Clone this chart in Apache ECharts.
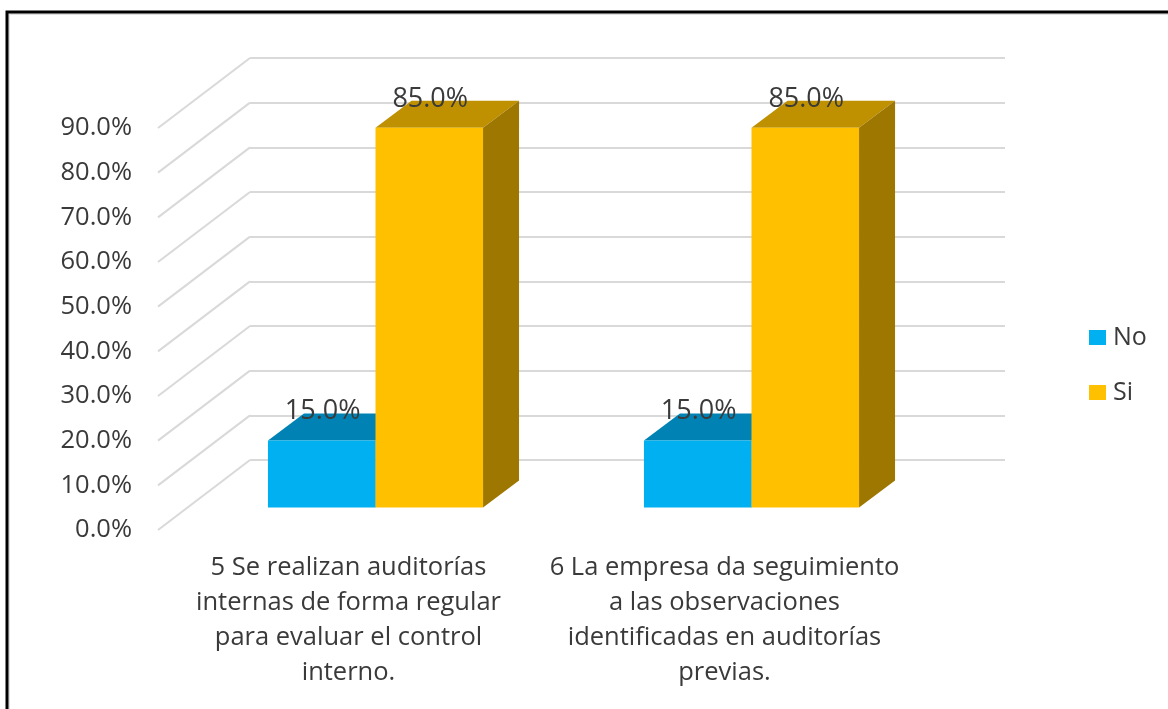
<!DOCTYPE html>
<html><head><meta charset="utf-8">
<style>html,body{margin:0;padding:0;background:#fff}#c{width:1168px;height:709px}</style>
<script src="https://cdn.jsdelivr.net/npm/echarts@6/dist/echarts.min.js"></script>
</head><body><div id="c"></div>
<script>
const categories = [
  "5 Se realizan auditorías\ninternas de forma regular\npara evaluar el control\ninterno.",
  "6 La empresa da seguimiento\na las observaciones\nidentificadas en auditorías\nprevias."
];
const noValues = [15, 15];
const siValues = [85, 85];
const wallTicks = [0, 10, 20, 30, 40, 50, 60, 70, 80, 90];

const FONT = '"Open Sans", sans-serif';
const TXT = '#3a3a3a';
const GRID = '#d9d9d9';
const wallDX = 92, wallDY = 70;      // front plane to back wall
const planeDX = 29.5, planeDY = 22.5; // front plane to bar front
const depthDX = 36, depthDY = 27;    // bar depth
const barFrac = 0.286;

function barRenderer(side, front, top, dark) {
  return function (params, api) {
    const c = api.coord([api.value(0), api.value(1)]);
    const b = api.coord([api.value(0), 0]);
    const w = api.size([1, 0])[0] * barFrac;
    const xL = c[0] + planeDX + (side < 0 ? -w : 0);
    const xR = xL + w;
    const yT = c[1] - planeDY, yB = b[1] - planeDY;
    const sh = (pts, fill) => ({ type: 'polygon', shape: { points: pts }, style: { fill: fill } });
    return {
      type: 'group',
      children: [
        sh([[xL, yT], [xR, yT], [xR + depthDX, yT - depthDY], [xL + depthDX, yT - depthDY]], top),
        sh([[xR, yT], [xR + depthDX, yT - depthDY], [xR + depthDX, yB - depthDY], [xR, yB]], dark),
        sh([[xL, yT], [xR, yT], [xR, yB], [xL, yB]], front),
        { type: 'text', z2: 10, style: {
            x: (xL + xR) / 2 + 1, y: yT - 29, text: api.value(1).toFixed(1) + '%',
            font: '27px ' + FONT, fill: TXT, align: 'center', verticalAlign: 'middle' } }
      ]
    };
  };
}

const chart = echarts.init(document.getElementById('c'), null, { renderer: 'canvas' });
chart.setOption({
  animation: false,
  backgroundColor: '#ffffff',
  graphic: [
    { type: 'rect', silent: true, z: -1, shape: { x: 9, y: 14, width: 1200, height: 760 }, style: { fill: 'none', stroke: '#e0e0e0', lineWidth: 2 } },
    { type: 'rect', silent: true, z: -1, shape: { x: 7, y: 12, width: 1200, height: 760 }, style: { fill: 'none', stroke: '#000000', lineWidth: 3 } }
  ],
  legend: {
    data: ['No', 'Si'], orient: 'vertical', left: 1084, top: 320, itemWidth: 17, itemHeight: 15, itemGap: 30,
    textStyle: { fontFamily: FONT, fontSize: 25, color: TXT, padding: [0, 0, 0, 2] },
    icon: 'rect'
  },
  grid: [
    { left: 158, top: 128, width: 752, height: 402 },
    { left: 250, top: 58, width: 755, height: 402 }
  ],
  xAxis: [
    { type: 'category', gridIndex: 0, data: categories, axisLine: { show: false }, axisTick: { show: false },
      axisLabel: { fontFamily: FONT, fontSize: 25.5, color: TXT, lineHeight: 35, margin: 20, interval: 0, padding: [0, 0, 0, 5] } },
    { type: 'category', gridIndex: 1, data: categories, show: false }
  ],
  yAxis: [
    { type: 'value', gridIndex: 0, min: 0, max: 90, interval: 10, axisLine: { show: false }, axisTick: { show: false },
      splitLine: { show: false },
      axisLabel: { fontFamily: FONT, fontSize: 25.5, color: TXT, margin: 26, formatter: v => v.toFixed(1) + '%' } },
    { type: 'value', gridIndex: 1, min: 0, max: 90, interval: 10, axisLine: { show: false }, axisTick: { show: false },
      axisLabel: { show: false }, splitLine: { show: true, lineStyle: { color: GRID, width: 2 } } }
  ],
  series: [
    { type: 'custom', name: 'walls', xAxisIndex: 0, yAxisIndex: 0, silent: true, z: 1,
      data: wallTicks.map(v => [0, v]), encode: { x: 0, y: 1 },
      renderItem: function (params, api) {
        const y = api.coord([0, api.value(1)])[1];
        const x = params.coordSys.x;
        return { type: 'line', shape: { x1: x, y1: y, x2: x + wallDX, y2: y - wallDY },
                 style: { stroke: GRID, lineWidth: 2 } };
      } },
    { type: 'custom', name: 'No', xAxisIndex: 0, yAxisIndex: 0, z: 2, itemStyle: { color: '#00b0f0' },
      data: noValues.map((v, i) => [i, v]), encode: { x: 0, y: 1 },
      renderItem: barRenderer(-1, '#00b0f0', '#0083b4', '#006f98') },
    { type: 'custom', name: 'Si', xAxisIndex: 0, yAxisIndex: 0, z: 3, itemStyle: { color: '#ffc000' },
      data: siValues.map((v, i) => [i, v]), encode: { x: 0, y: 1 },
      renderItem: barRenderer(1, '#ffc000', '#bf9000', '#9e7700') }
  ]
});
</script></body></html>
